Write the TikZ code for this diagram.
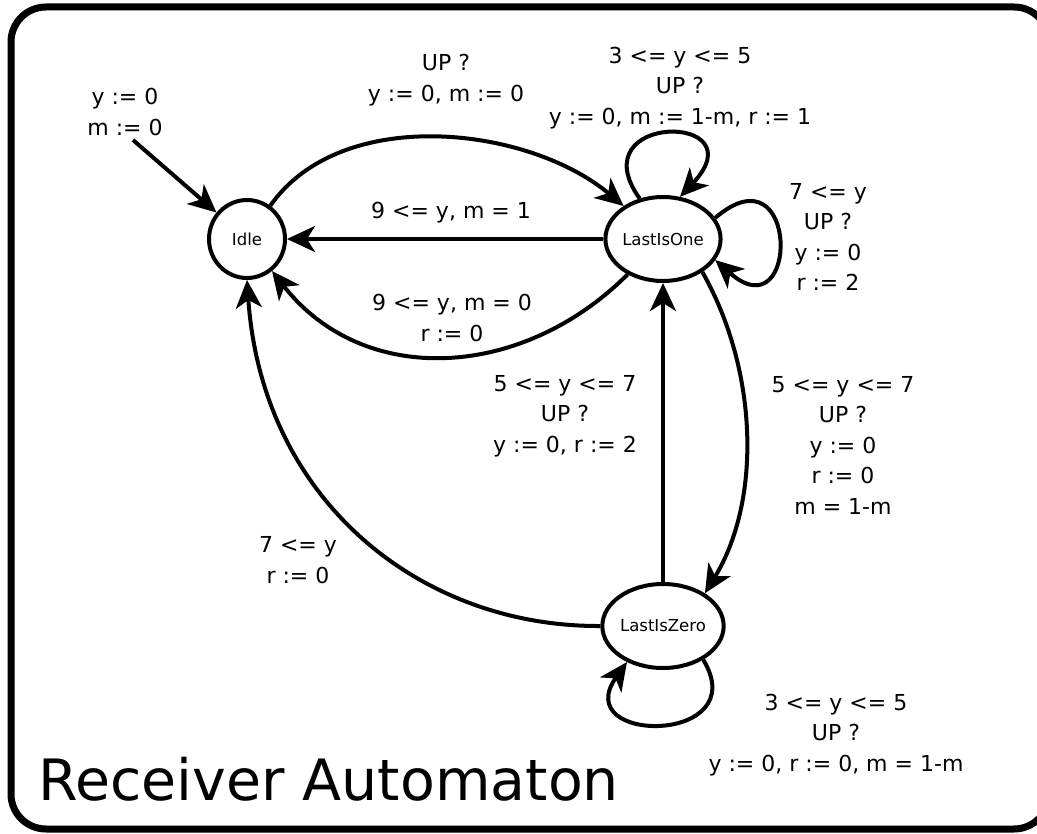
\documentclass[tikz,border=0pt]{standalone}
\usepackage{fontspec}
\setmainfont{DejaVu Sans}
\usetikzlibrary{shapes.geometric,arrows.meta}
\begin{document}
\begin{tikzpicture}[x=1pt,y=-1pt,
  state/.style={ellipse,draw,line width=4pt,inner sep=0pt,font=\fontsize{16.5}{20}\selectfont},
  arr/.style={line width=4pt,-{Stealth[length=28pt,width=26pt,inset=8pt]}},
  lbl/.style={align=center,font=\fontsize{22}{30.5}\selectfont,inner sep=0pt},
]
\useasboundingbox (0,0) rectangle (1037,834);
% outer frame
\draw[line width=7pt,rounded corners=35pt] (11,7) rectangle (1049,829);

% states
\node[state,minimum width=76pt,minimum height=78pt] (idle) at (247,239) {Idle};
\node[state,minimum width=108pt,minimum height=84pt] (one) at (663,239) {LastIsOne};
\node[state,minimum width=118pt,minimum height=84pt] (zero) at (663,626) {LastIsZero};

% initial transition
\coordinate (init) at (133,140);
\draw[arr] (init) -- (idle);
\node[lbl] (initlbl) at (125,112) {y := 0\\m := 0};

% Idle -> LastIsOne
\draw[arr] (idle) to[out=55,in=140,looseness=0.9] (one);
\node[lbl] (l1) at (446,80) {UP ?\\y := 0, m := 0};

% LastIsOne -> Idle, straight
\draw[arr] (one) -- (idle);
\node[lbl] (l2) at (451,213) {9 <= y, m = 1};

% LastIsOne -> Idle, lower arc
\draw[arr] (one) to[out=-135,in=-52,looseness=1.07] (idle);
\node[lbl] (l3) at (452,318) {9 <= y, m = 0\\r := 0};

% LastIsOne self loops
\draw[arr] (one.120) .. controls (578,112) and (760,112) .. (one.68);
\node[lbl] (l4) at (680,88) {3 <= y <= 5\\UP ?\\y := 0, m := 1-m, r := 1};
\draw[arr] (one.22) .. controls (800,145) and (800,335) .. (one.-22);
\node[lbl] (l5) at (828,237) {7 <= y\\UP ?\\y := 0\\r := 2};

% LastIsOne -> LastIsZero
\draw[arr] (one.-40) .. controls (758,370) and (762,500) .. (zero.38);
\node[lbl] (l6) at (843,445) {5 <= y <= 7\\UP ?\\y := 0\\r := 0\\m = 1-m};

% LastIsZero -> LastIsOne
\draw[arr] (zero) -- (one);
\node[lbl] (l7) at (565,416) {5 <= y <= 7\\UP ?\\y := 0, r := 2};

% LastIsZero -> Idle
\draw[arr] (zero.west) .. controls (420,627) and (262,500) .. (idle.south);
\node[lbl] (l8) at (298,560) {7 <= y\\r := 0};

% LastIsZero self loop
\draw[arr] (zero.-40) .. controls (755,745) and (568,745) .. (zero.-135);
\node[lbl] (l9) at (836,735) {3 <= y <= 5\\UP ?\\y := 0, r := 0, m = 1-m};

% title
\node[anchor=base west,inner sep=0pt,font=\fontsize{57}{68}\selectfont] (title) at (38,800) {Receiver Automaton};
\end{tikzpicture}
\end{document}
